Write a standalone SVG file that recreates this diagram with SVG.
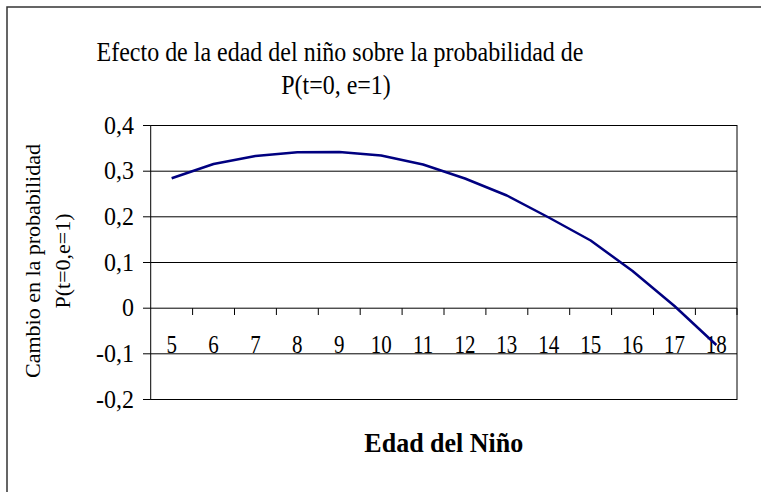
<svg xmlns="http://www.w3.org/2000/svg" width="761" height="492" viewBox="0 0 761 492">
<style>
.t{font-family:"Liberation Serif","Times New Roman",serif;fill:#000}
.xt{font-size:21px}
.yt{font-size:24px}
.grid{stroke:#000;stroke-width:1;fill:none}
</style>
<rect width="761" height="492" fill="#fff"/>
<g id="chart-border"><rect x="7" y="7" width="800" height="600" fill="none" stroke="#333" stroke-width="1.5"/></g>
<g id="title">
<text class="t" font-size="24" text-anchor="middle" transform="translate(340 61) scale(1 1.12)">Efecto de la edad del niño sobre la probabilidad de</text>
<text class="t" font-size="24" text-anchor="middle" transform="translate(336 94) scale(1 1.12)">P(t=0, e=1)</text>
</g>
<g id="plot-area">
<rect x="150.7" y="125.5" width="586.3" height="274" fill="none" stroke="#000" stroke-width="1"/>
<path class="grid" d="M150.7 171.2H737M150.7 216.8H737M150.7 262.5H737M150.7 308.2H737M150.7 353.8H737"/>
</g>
<g id="y-axis">
<path class="grid" d="M143 125.5H150.7M143 171.2H150.7M143 216.8H150.7M143 262.5H150.7M143 308.2H150.7M143 353.8H150.7M143 399.5H150.7"/>
<g class="t yt" text-anchor="end">
<text transform="translate(134 133.5) scale(1 1.08)">0,4</text>
<text transform="translate(134 179.2) scale(1 1.08)">0,3</text>
<text transform="translate(134 224.8) scale(1 1.08)">0,2</text>
<text transform="translate(134 270.5) scale(1 1.08)">0,1</text>
<text transform="translate(134 316.2) scale(1 1.08)">0</text>
<text transform="translate(134 361.8) scale(1 1.08)">-0,1</text>
<text transform="translate(134 407.5) scale(1 1.08)">-0,2</text>
</g>
</g>
<g id="x-axis">
<path class="grid" d="M192.6 308.2V315M234.5 308.2V315M276.4 308.2V315M318.3 308.2V315M360.2 308.2V315M402.1 308.2V315M444 308.2V315M485.9 308.2V315M527.8 308.2V315M569.7 308.2V315M611.6 308.2V315M653.5 308.2V315M695.4 308.2V315M737 308.2V315"/>
<g class="t xt" text-anchor="middle">
<text transform="translate(171.65 353) scale(1 1.18)">5</text>
<text transform="translate(213.55 353) scale(1 1.18)">6</text>
<text transform="translate(255.45 353) scale(1 1.18)">7</text>
<text transform="translate(297.35 353) scale(1 1.18)">8</text>
<text transform="translate(339.25 353) scale(1 1.18)">9</text>
<text transform="translate(381.15 353) scale(1 1.18)">10</text>
<text transform="translate(423.05 353) scale(1 1.18)">11</text>
<text transform="translate(464.95 353) scale(1 1.18)">12</text>
<text transform="translate(506.85 353) scale(1 1.18)">13</text>
<text transform="translate(548.75 353) scale(1 1.18)">14</text>
<text transform="translate(590.65 353) scale(1 1.18)">15</text>
<text transform="translate(632.55 353) scale(1 1.18)">16</text>
<text transform="translate(674.45 353) scale(1 1.18)">17</text>
<text transform="translate(716.35 353) scale(1 1.18)">18</text>
</g>
</g>
<g id="series">
<polyline fill="none" stroke="#000080" stroke-width="2.5" stroke-linejoin="round" points="171.65,178.3 213.55,164 255.45,156 297.35,152.3 339.25,152 381.15,155.5 423.05,164.5 464.95,178.5 506.85,195.5 548.75,217.5 590.65,240.5 632.55,271 674.45,306 716.35,345"/>
</g>
<g id="axis-titles">
<text class="t" font-size="26" font-weight="bold" text-anchor="middle" transform="translate(443.8 452) scale(1 1.05)">Edad del Niño</text>
<text class="t" font-size="20" text-anchor="middle" transform="translate(40 261) scale(1 1.1) rotate(-90)">Cambio en la probabilidad</text>
<text class="t" font-size="20" text-anchor="middle" transform="translate(70 261) scale(1 1.1) rotate(-90)">P(t=0,e=1)</text>
</g>
</svg>
